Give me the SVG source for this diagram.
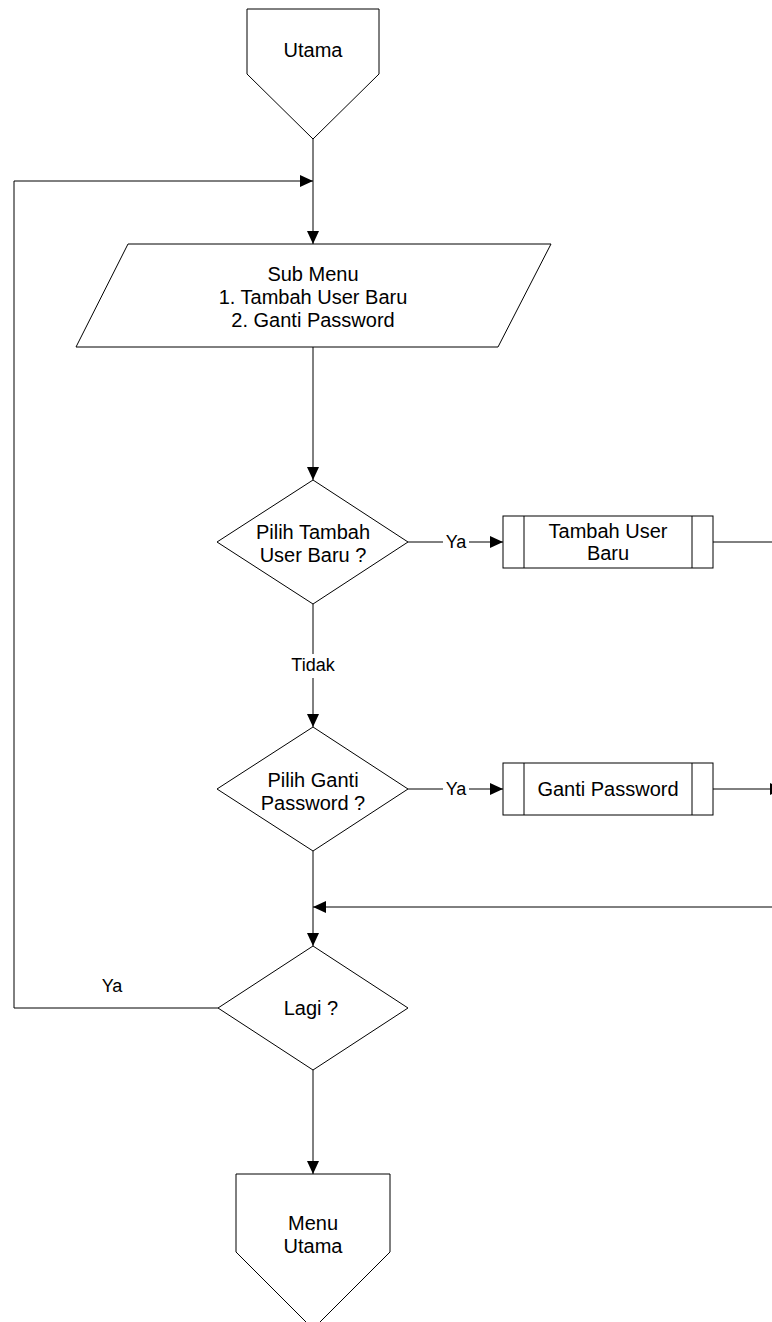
<svg xmlns="http://www.w3.org/2000/svg" width="772" height="1322" viewBox="0 0 772 1322">
<style>
.s{fill:#fff;stroke:#000;stroke-width:1}
.c{fill:none;stroke:#000;stroke-width:1}
.t{font-family:"Liberation Sans",Arial,sans-serif;font-size:20px;fill:#000;text-anchor:middle}
.l{font-family:"Liberation Sans",Arial,sans-serif;font-size:18px;fill:#000;text-anchor:middle}
</style>
<defs>
<marker id="a" markerUnits="userSpaceOnUse" markerWidth="14" markerHeight="13" refX="13" refY="6" orient="auto"><path d="M0,0 L13,6 L0,12 z" fill="#000"/></marker>
</defs>
<rect width="772" height="1322" fill="#fff"/>
<g id="connectors">
<line class="c" x1="313" y1="139" x2="313" y2="244" marker-end="url(#a)"/>
<polyline class="c" points="218,1008 14,1008 14,181 313,181" marker-end="url(#a)"/>
<line class="c" x1="313" y1="347" x2="313" y2="480" marker-end="url(#a)"/>
<line class="c" x1="408" y1="542" x2="443" y2="542"/>
<line class="c" x1="469" y1="542" x2="503" y2="542" marker-end="url(#a)"/>
<line class="c" x1="713" y1="542" x2="772" y2="542"/>
<line class="c" x1="313" y1="604" x2="313" y2="654"/>
<line class="c" x1="313" y1="678" x2="313" y2="727" marker-end="url(#a)"/>
<line class="c" x1="408" y1="789" x2="443" y2="789"/>
<line class="c" x1="469" y1="789" x2="503" y2="789" marker-end="url(#a)"/>
<line class="c" x1="713" y1="789" x2="783" y2="789" marker-end="url(#a)"/>
<line class="c" x1="313" y1="851" x2="313" y2="946" marker-end="url(#a)"/>
<line class="c" x1="772" y1="907" x2="313" y2="907" marker-end="url(#a)"/>
<line class="c" x1="313" y1="1070" x2="313" y2="1174" marker-end="url(#a)"/>
<text class="l" x="456" y="548">Ya</text>
<text class="l" x="313" y="671">Tidak</text>
<text class="l" x="456" y="795">Ya</text>
<text class="l" x="112" y="992">Ya</text>
</g>
<g id="utama">
<polygon class="s" points="247,9 379,9 379,74 313,139 247,74"/>
<text class="t" x="313" y="57">Utama</text>
</g>
<g id="submenu">
<polygon class="s" points="128,244 551,244 498,347 76,347"/>
<text class="t" x="313" y="281">Sub Menu</text>
<text class="t" x="313" y="304">1. Tambah User Baru</text>
<text class="t" x="313" y="327">2. Ganti Password</text>
</g>
<g id="pilih-tambah">
<polygon class="s" points="313,480 408,542 313,604 217,542"/>
<text class="t" x="313" y="539">Pilih Tambah</text>
<text class="t" x="313" y="562">User Baru ?</text>
</g>
<g id="tambah-user">
<rect class="s" x="503" y="516" width="210" height="52"/>
<line class="c" x1="524" y1="516" x2="524" y2="568"/>
<line class="c" x1="692" y1="516" x2="692" y2="568"/>
<text class="t" x="608" y="538">Tambah User</text>
<text class="t" x="608" y="560">Baru</text>
</g>
<g id="pilih-ganti">
<polygon class="s" points="313,727 408,789 313,851 217,789"/>
<text class="t" x="313" y="787">Pilih Ganti</text>
<text class="t" x="313" y="810">Password ?</text>
</g>
<g id="ganti-password">
<rect class="s" x="503" y="763" width="210" height="52"/>
<line class="c" x1="524" y1="763" x2="524" y2="815"/>
<line class="c" x1="692" y1="763" x2="692" y2="815"/>
<text class="t" x="608" y="796">Ganti Password</text>
</g>
<g id="lagi">
<polygon class="s" points="313,946 408,1008 313,1070 218,1008"/>
<text class="t" x="311" y="1015">Lagi ?</text>
</g>
<g id="menu-utama">
<polygon class="s" points="236,1174 390,1174 390,1252 313,1329 236,1252"/>
<text class="t" x="313" y="1230">Menu</text>
<text class="t" x="313" y="1253">Utama</text>
</g>
</svg>
